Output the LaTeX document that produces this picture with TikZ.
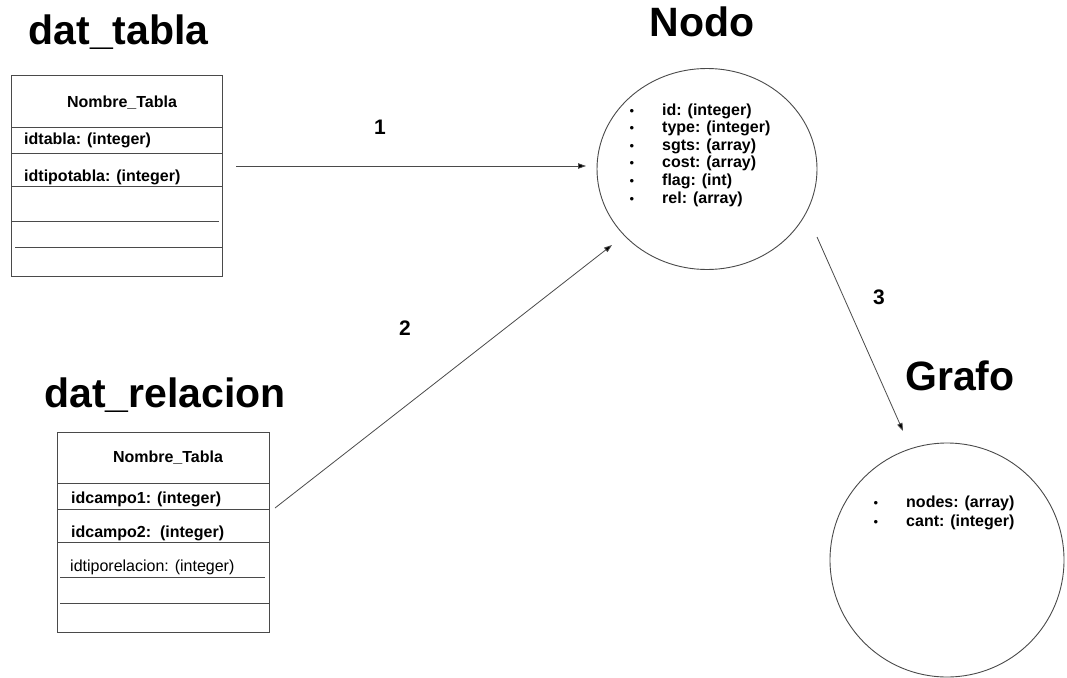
\documentclass[tikz,border=0pt]{standalone}
\usepackage{fontspec}
\setmainfont{Liberation Sans}
\usetikzlibrary{shapes.geometric,arrows.meta}
\definecolor{linegray}{HTML}{4A4A4A}
\begin{document}
\begin{tikzpicture}[x=1pt,y=-1pt,
  title/.style={font=\fontsize{41}{48}\selectfont\bfseries, inner sep=0, anchor=base},
  field/.style={font=\fontsize{16}{19}\selectfont\bfseries, inner sep=0, anchor=base west},
  plainfield/.style={font=\fontsize{16}{19}\selectfont, inner sep=0, anchor=base west},
  hdr/.style={font=\fontsize{16}{19}\selectfont\bfseries, inner sep=0, anchor=base},
  num/.style={font=\fontsize{21}{24}\selectfont\bfseries, inner sep=0, anchor=base},
  bul/.style={font=\fontsize{13}{15}\selectfont, inner sep=0, anchor=base},
  tbl/.style={draw=linegray, line width=0.9pt, inner sep=0, rectangle},
  sepline/.style={draw=linegray, line width=0.9pt},
  conn/.style={draw=linegray, line width=0.8pt, -{Triangle[length=8pt,width=5.5pt,fill=black]}},
  ent/.style={draw=linegray, line width=0.9pt, inner sep=0}
]
\useasboundingbox (0,0) rectangle (1067,677);
\fill[white] (0,0) rectangle (1067,677);

% ---- titles
\node[title] (t1) at (118.5,45) {dat\_tabla};
\node[title] (t2) at (165,407) {dat\_relacion};
\node[title] (t3) at (702,37) {Nodo};
\node[title] (t4) at (960,390) {Grafo};

% ---- table 1
\node[tbl, minimum width=211pt, minimum height=201pt] (tab1) at (116.5,175.5) {};
\draw[sepline] (11,127) -- (222,127);
\draw[sepline] (11,153) -- (222,153);
\draw[sepline] (11,186) -- (222,186);
\draw[sepline] (11,221) -- (219,221);
\draw[sepline] (15,247) -- (222,247);
\node[hdr] (h1) at (122,107) {Nombre\_Tabla};
\node[field] (f11) at (24,144) {idtabla: (integer)};
\node[field] (f12) at (24,181) {idtipotabla: (integer)};

% ---- table 2
\node[tbl, minimum width=212pt, minimum height=200pt] (tab2) at (163,532) {};
\draw[sepline] (57,483) -- (269,483);
\draw[sepline] (57,509) -- (269,509);
\draw[sepline] (57,542) -- (269,542);
\draw[sepline] (60,577) -- (265,577);
\draw[sepline] (60,603) -- (269,603);
\node[hdr] (h2) at (168,462) {Nombre\_Tabla};
\node[field] (f21) at (71,503) {idcampo1: (integer)};
\node[field] (f22) at (71,537) {idcampo2:\ \ (integer)};
\node[plainfield] (f23) at (70,571) {idtiporelacion: (integer)};

% ---- Nodo
\node[ent, ellipse, minimum width=220pt, minimum height=201pt] (nodo) at (707,169) {};
\foreach \t [count=\i from 0] in {id: (integer),type: (integer),sgts: (array),cost: (array),flag: (int),rel: (array)}{
  \node[bul] (nb\i) at (632,115+17.6*\i) {•};
  \node[field] (nf\i) at (662,115+17.6*\i) {\t};
}

% ---- Grafo
\node[ent, circle, minimum size=234pt] (grafo) at (947,560) {};
\node[bul] (gb0) at (876,507) {•};
\node[field] (gf0) at (906,507) {nodes: (array)};
\node[bul] (gb1) at (876,526) {•};
\node[field] (gf1) at (906,526) {cant: (integer)};

% ---- connectors
\coordinate (a1s) at (236,166);
\coordinate (a1e) at (586,166);
\coordinate (a2s) at (275,508);
\coordinate (a2e) at (612,245);
\coordinate (a3s) at (817,237);
\coordinate (a3e) at (903,431);
\draw[conn] (a1s) -- (a1e);
\draw[conn] (a2s) -- (a2e);
\draw[conn] (a3s) -- (a3e);

\node[num] (n1) at (380,134) {1};
\node[num] (n2) at (405,335) {2};
\node[num] (n3) at (879,304) {3};
\end{tikzpicture}
\end{document}
